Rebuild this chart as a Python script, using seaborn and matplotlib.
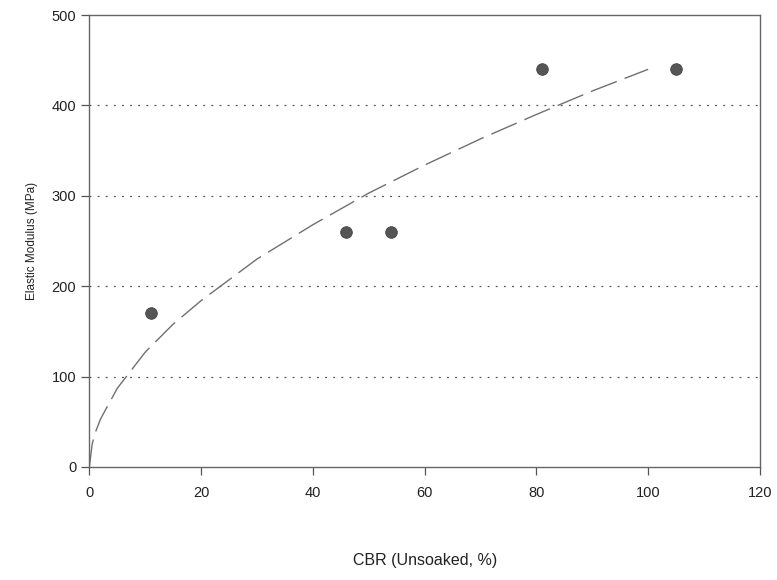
import matplotlib
matplotlib.use("Agg")
import matplotlib.pyplot as plt
import seaborn as sns
import pandas as pd

cbr = [11, 46, 54, 81, 105]
modulus = [170, 260, 260, 440, 440]

curve_x = [0, 0.5, 1, 2, 5, 10, 15, 20, 30, 40, 50, 60, 70, 80, 90, 100]
curve_y = [0, 25, 37, 53, 87, 127, 158, 184, 230, 268, 303, 334, 363, 390, 416, 440]

x_ticks = [0, 20, 40, 60, 80, 100, 120]
y_ticks = [0, 100, 200, 300, 400, 500]

sns.set_theme(style="white")
plt.rcParams['font.family'] = ['Liberation Sans', 'DejaVu Sans']

fig = plt.figure(figsize=(7.77, 5.8), dpi=100)
ax = fig.add_axes([0.115, 0.195, 0.863, 0.779])

pts = pd.DataFrame({"CBR": cbr, "E": modulus})
crv = pd.DataFrame({"CBR": curve_x, "E": curve_y})

for y in y_ticks[1:-1]:
    ax.axhline(y, color="#555555", linestyle=(0, (1.5, 5)), linewidth=0.9, zorder=1)

sns.lineplot(data=crv, x="CBR", y="E", ax=ax, color="#707070", linewidth=1.0,
             dashes=False, zorder=2)
ax.lines[-1].set_dashes([20, 6])
sns.scatterplot(data=pts, x="CBR", y="E", ax=ax, color="#555555", s=70,
                edgecolor="#444444", linewidth=0.6, zorder=3)

ax.set_xlim(0, 120)
ax.set_ylim(0, 500)
ax.set_xticks(x_ticks)
ax.set_yticks(y_ticks)
ax.tick_params(axis="both", direction="out", length=6, width=0.9, color="#555555",
               labelsize=10.5, labelcolor="#222222", bottom=True, left=True)
ax.tick_params(axis="x", pad=8)
for s in ax.spines.values():
    s.set_color("#666666")
    s.set_linewidth(1.0)
ax.set_xlabel("CBR (Unsoaked, %)", fontsize=11.5, color="#222222", labelpad=38)
ax.set_ylabel("Elastic Modulus (MPa)", fontsize=8.5, color="#222222", labelpad=10)

fig.savefig("out.png", dpi=100)
